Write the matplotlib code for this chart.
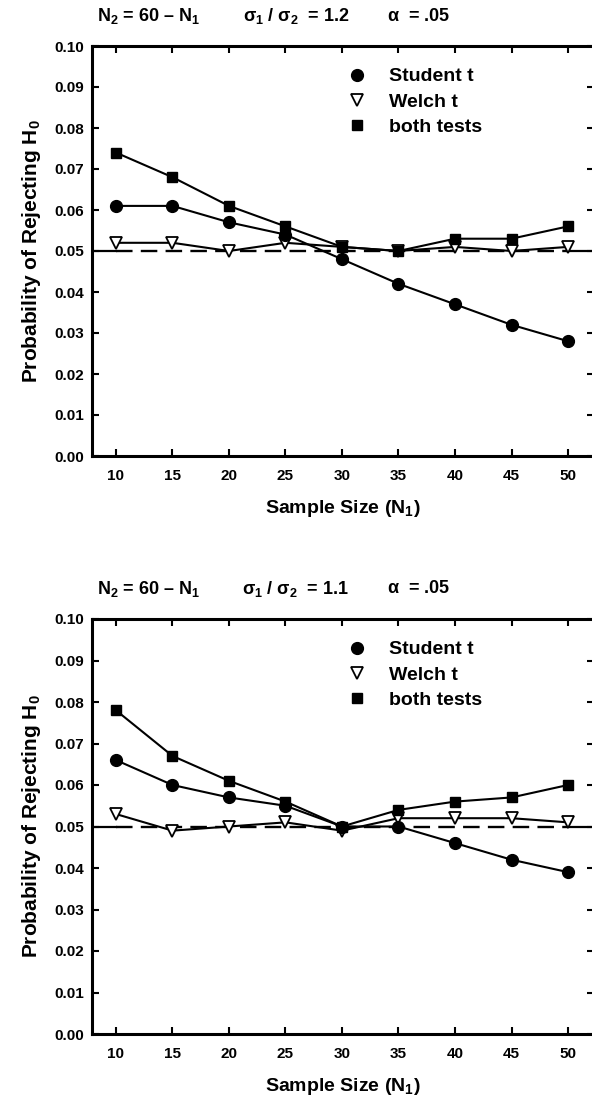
import matplotlib
matplotlib.use('Agg')
import matplotlib.pyplot as plt
from matplotlib.lines import Line2D

plt.rcParams['font.family'] = ['Liberation Sans', 'DejaVu Sans']
plt.rcParams['font.weight'] = 'bold'
plt.rcParams['axes.labelweight'] = 'bold'
plt.rcParams['mathtext.fontset'] = 'custom'
plt.rcParams['mathtext.rm'] = 'Liberation Sans:bold'
plt.rcParams['mathtext.it'] = 'Liberation Sans:bold'
plt.rcParams['mathtext.bf'] = 'Liberation Sans:bold'
plt.rcParams['mathtext.sf'] = 'Liberation Sans:bold'

# Sample sizes N1
n1 = [10, 15, 20, 25, 30, 35, 40, 45, 50]

# sigma1/sigma2 = 1.2
student_12 = [0.061, 0.061, 0.057, 0.054, 0.048, 0.042, 0.037, 0.032, 0.028]
welch_12 = [0.052, 0.052, 0.050, 0.052, 0.051, 0.050, 0.051, 0.050, 0.051]
both_12 = [0.074, 0.068, 0.061, 0.056, 0.051, 0.050, 0.053, 0.053, 0.056]

# sigma1/sigma2 = 1.1
student_11 = [0.066, 0.060, 0.057, 0.055, 0.050, 0.050, 0.046, 0.042, 0.039]
welch_11 = [0.053, 0.049, 0.050, 0.051, 0.049, 0.052, 0.052, 0.052, 0.051]
both_11 = [0.078, 0.067, 0.061, 0.056, 0.050, 0.054, 0.056, 0.057, 0.060]

ratios = ['1.2', '1.1']
alpha = 0.05
legend_labels = ['Student t', 'Welch t', 'both tests']
xticks = [10, 15, 20, 25, 30, 35, 40, 45, 50]
yticks = [0.00, 0.01, 0.02, 0.03, 0.04, 0.05, 0.06, 0.07, 0.08, 0.09, 0.10]

fig = plt.figure(figsize=(5.92, 11.03), dpi=100)
left = 92 / 592
width = (594 - 92) / 592
ax_top = fig.add_axes([left, 1 - 456 / 1103, width, 410 / 1103])
ax_bot = fig.add_axes([left, 1 - 1034 / 1103, width, 415 / 1103])

xlim = (7.88, 52.3)


def draw_panel(ax, student, welch, both, ratio):
    ax.set_xlim(xlim)
    ax.set_ylim(0, 0.10)

    # reference line at alpha
    ax.plot([xlim[0], n1[0]], [alpha, alpha], color='k', lw=1.6, zorder=1)
    ax.plot([n1[-1], xlim[1]], [alpha, alpha], color='k', lw=1.6, zorder=1)
    ax.plot([n1[0], n1[-1]], [alpha, alpha], color='k', lw=1.7,
            dashes=(7, 3.5), zorder=1)

    ax.plot(n1, welch, color='k', lw=1.5, marker='v', ms=8, mfc='white',
            mec='k', mew=1.3, zorder=3)
    ax.plot(n1, student, color='k', lw=1.5, marker='o', ms=8.5, zorder=4)
    ax.plot(n1, both, color='k', lw=1.5, marker='s', ms=7.5, zorder=5)

    for sp in ax.spines.values():
        sp.set_linewidth(2.2)
    ax.spines['right'].set_visible(False)

    ax.set_xticks(xticks)
    ax.set_yticks(yticks)
    ax.set_yticklabels(['%.2f' % v for v in yticks])
    ax.tick_params(axis='x', direction='in', top=True, length=5, width=1.5,
                   pad=9, labelsize=11)
    ax.tick_params(axis='y', direction='in', right=True, length=5, width=1.5,
                   pad=6, labelsize=11)

    ax.set_xlabel(r'Sample Size ($\mathrm{N_1}$)', fontsize=14, labelpad=11)
    ax.set_ylabel(r'Probability of Rejecting $\mathrm{H_0}$', fontsize=15,
                  labelpad=8)

    ax.text(0.1135, 1.073, r'$\mathrm{N_2}$ = 60 – $\mathrm{N_1}$',
            transform=ax.transAxes, ha='center', va='center', fontsize=13)
    ax.text(0.406, 1.073, r'$\sigma_1$ / $\sigma_2$  = ' + ratio,
            transform=ax.transAxes, ha='center', va='center', fontsize=13)
    ax.text(0.651, 1.073, r'$\alpha$  = .05',
            transform=ax.transAxes, ha='center', va='center', fontsize=13)

    handles = [Line2D([], [], ls='none', marker='o', color='k', ms=8.5),
               Line2D([], [], ls='none', marker='v', mfc='white', mec='k',
                      mew=1.3, ms=8),
               Line2D([], [], ls='none', marker='s', color='k', ms=7.5)]
    ax.legend(handles, legend_labels, loc='upper left',
              bbox_to_anchor=(0.494, 0.966), frameon=False, fontsize=14,
              handlelength=1.0, handletextpad=1.1, labelspacing=0.4,
              borderaxespad=0)


draw_panel(ax_top, student_12, welch_12, both_12, ratios[0])
draw_panel(ax_bot, student_11, welch_11, both_11, ratios[1])

plt.savefig('out.png', dpi=100)
